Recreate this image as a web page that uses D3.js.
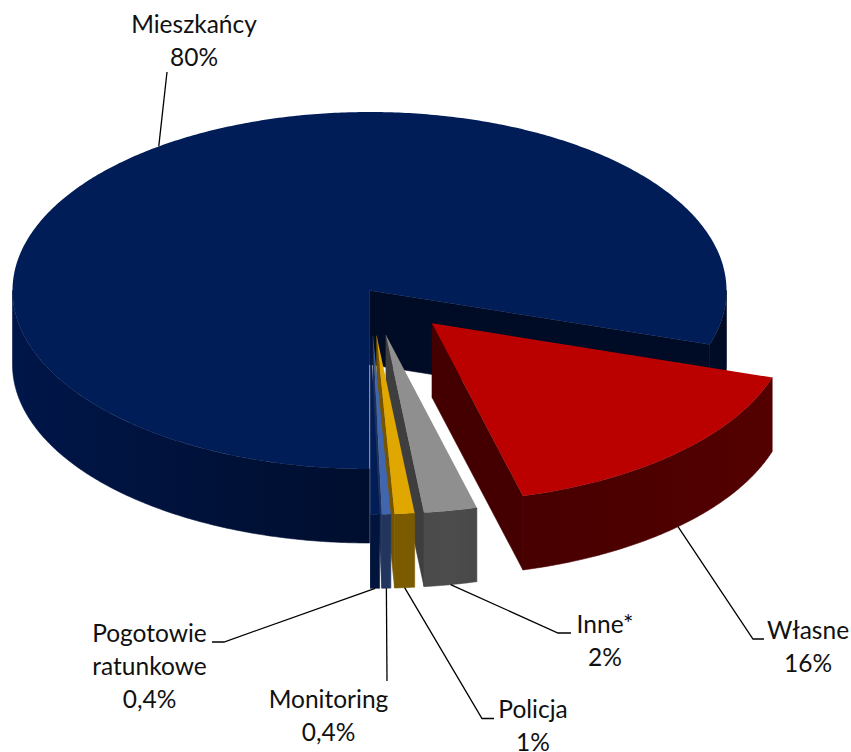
<!DOCTYPE html>
<html>
<head>
<meta charset="utf-8">
<style>
  html, body { margin: 0; padding: 0; background: #fff; }
  svg { display: block; }
  text { font-family: Lato, "Open Sans", sans-serif; font-size: 24.5px; fill: #111; text-anchor: middle; }
</style>
</head>
<body>
<svg></svg>
<script src="https://cdn.jsdelivr.net/npm/d3@7"></script>
<script>
let categories = ["Mieszkańcy", "Własne", "Inne*", "Policja", "Monitoring", "Pogotowie ratunkowe"];
let values = [79.9, 16, 2.4, 0.9, 0.4, 0.4];
let valueLabels = ["80%", "16%", "2%", "1%", "0,4%", "0,4%"];

let topColors = ["#001d58", "#bb0000", "#8f8f8f", "#dfa700", "#3f66ae", "#001d58"];
let cutColors = ["#000b25", "#440000", "#3e3e3e", "#775500", "#1f3158", "#00143c"];
let rimColors = [
  ["#001649", "#00123b", "#000e2e"],
  ["#480000", "#4d0000", "#540000"],
  ["#4a4a4a", "#4c4c4c", "#484848"],
  ["#7a5b00", "#7a5b00", "#7a5b00"],
  ["#22355f", "#22355f", "#22355f"],
  ["#00143c", "#00143c", "#00143c"],
];

// label layout: elbow point of the leader, end of the leader, text centre, first baseline
let labelLayout = [
  { elbow: [167, 72], end: [167, 72], x: 194, y: 33 },
  { elbow: [753, 639], end: [764, 639], x: 808, y: 639 },
  { elbow: [558, 633], end: [571, 633], x: 605, y: 633 },
  { elbow: [482, 718.5], end: [494, 718.5], x: 533, y: 718 },
  { elbow: [387, 681], end: [387, 681], x: 328.5, y: 708 },
  { elbow: [224, 642], end: [212, 642], x: 149.5, y: 642 },
];

let width = 851;
let height = 752;
let cx = 369.5;
let cy = 290.5;
let rx = 357;
let ry = 178.5;
let depth = 74;
let explode = 0.254;
let lineHeight = 33;

let svg = d3.select("svg").attr("width", width).attr("height", height);
let defs = svg.append("defs");

let pie = d3.pie().sort(null).startAngle(Math.PI).endAngle(3 * Math.PI);
let slices = pie(values);

// d3 angles: 0 at 12 o'clock, clockwise
let point = (a, r, o, dz) => [
  cx + o[0] + rx * r * Math.sin(a),
  cy + o[1] - ry * r * Math.cos(a) + dz,
];

let offsetOf = (d, i) => {
  if (i === 0) return [0, 0];
  let mid = (d.startAngle + d.endAngle) / 2;
  return [rx * explode * Math.sin(mid), -ry * explode * Math.cos(mid)];
};

let line = d3.line();

let arcPoints = (a0, a1, o, dz) => {
  let n = Math.max(2, Math.ceil((a1 - a0) / 0.01));
  return d3.range(n + 1).map((k) => point(a0 + ((a1 - a0) * k) / n, 1, o, dz));
};

// outer wall is only seen on the front half of the ellipse
let rimParts = (d) => {
  let parts = [];
  [Math.PI / 2, (5 * Math.PI) / 2].forEach((from) => {
    let a0 = Math.max(d.startAngle, from);
    let a1 = Math.min(d.endAngle, from + Math.PI);
    if (a1 > a0) parts.push([a0, a1]);
  });
  return parts;
};

slices.forEach((d, i) => {
  let o = offsetOf(d, i);
  let g = svg.append("g").attr("class", "slice");

  // cut face at the end of the slice
  let centre = point(0, 0, o, 0);
  let outer = point(d.endAngle, 1, o, 0);
  g.append("path")
    .attr("d", line([centre, outer, [outer[0], outer[1] + depth], [centre[0], centre[1] + depth]]) + "Z")
    .attr("fill", cutColors[i])
    .attr("stroke", cutColors[i])
    .attr("stroke-width", 0.6);

  // outer wall
  rimParts(d).forEach((part, k) => {
    let upper = arcPoints(part[0], part[1], o, 0);
    let lower = arcPoints(part[0], part[1], o, depth).reverse();
    let id = "rim" + i + "-" + k;
    let xs = d3.extent(upper, (p) => p[0]);
    let grad = defs.append("linearGradient")
      .attr("id", id)
      .attr("gradientUnits", "userSpaceOnUse")
      .attr("x1", xs[0]).attr("x2", xs[1])
      .attr("y1", 0).attr("y2", 0);
    rimColors[i].forEach((c, s) => {
      grad.append("stop").attr("offset", s / 2).attr("stop-color", c);
    });
    let paint = k === 1 ? cutColors[i] : "url(#" + id + ")";
    g.append("path")
      .attr("d", line(upper.concat(lower)) + "Z")
      .attr("fill", paint)
      .attr("stroke", paint)
      .attr("stroke-width", 0.6);
  });

  // top surface
  g.append("path")
    .attr("d", line([centre].concat(arcPoints(d.startAngle, d.endAngle, o, 0))) + "Z")
    .attr("fill", topColors[i]);
});

// leaders and labels
slices.forEach((d, i) => {
  let o = offsetOf(d, i);
  let mid = (d.startAngle + d.endAngle) / 2;
  let front = Math.cos(mid) < 0;
  let start = point(mid, 1, o, front ? depth : 0);
  let pos = labelLayout[i];

  svg.append("path")
    .attr("d", line([start, pos.elbow, pos.end]))
    .attr("fill", "none")
    .attr("stroke", "#000")
    .attr("stroke-width", 1.3);

  let rows = categories[i] === "Pogotowie ratunkowe"
    ? ["Pogotowie", "ratunkowe", valueLabels[i]]
    : [categories[i], valueLabels[i]];
  let text = svg.append("text");
  rows.forEach((row, r) => {
    text.append("tspan").attr("x", pos.x).attr("y", pos.y + r * lineHeight).text(row);
  });
});
</script>
</body>
</html>
